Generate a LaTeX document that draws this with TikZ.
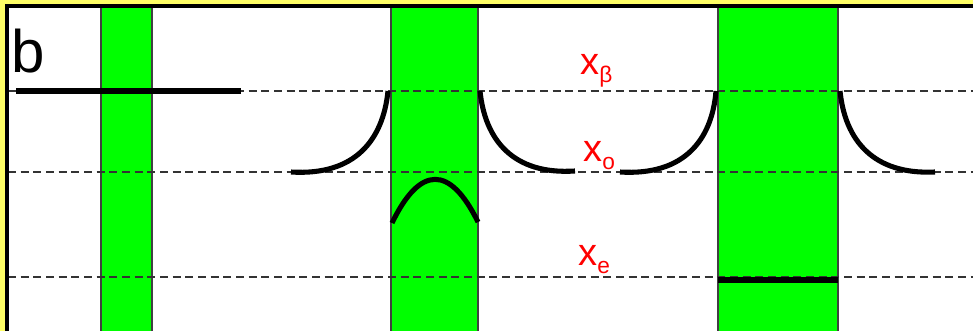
\documentclass[tikz,border=0pt]{standalone}
\usepackage{fontspec}
\setmainfont{Liberation Sans}
\definecolor{paleyellow}{RGB}{255,255,102}
\definecolor{bargreen}{RGB}{0,255,0}
\newcommand{\levellabel}[1]{x\raisebox{-6pt}{\fontsize{17}{18}\selectfont #1}}

\begin{document}
\begin{tikzpicture}[x=0.75pt,y=-0.75pt,
    bar/.style={fill=bargreen,draw=black!75,line width=0.8pt},
    guide/.style={draw=black!80,line width=0.9pt,dash pattern=on 6pt off 3.5pt},
    curve/.style={line width=3.8pt},
    level/.style={line width=4.5pt},
    lbl/.style={text=red,inner sep=0pt,anchor=base west,font=\fontsize{28.5}{30}\selectfont}]
    \useasboundingbox (0,0) rectangle (973,331);
    \clip (0,0) rectangle (973,331);

    % Frame
    \fill[paleyellow] (0,0) rectangle (973,331);
    \fill[white] (6,6) rectangle (980,340);

    % Green columns
    \draw[bar] (101,6) rectangle (152,340);
    \draw[bar] (391,6) rectangle (478,340);
    \draw[bar] (718,6) rectangle (838,340);

    % Levels
    \draw[guide] (8,91) -- (973,91);
    \draw[guide] (8,172) -- (973,172);
    \draw[guide] (8,277) -- (973,277);

    % Profiles
    \draw[level] (16,91) -- (241,91);
    \draw[curve] (291,172) .. controls (355,176) and (383,140) .. (388,91);
    \draw[curve] (480,91) .. controls (485,140) and (513,175) .. (575,171);
    \draw[curve] (392,223) .. controls (420,165) and (450,165) .. (478,222);
    \draw[curve] (620,172) .. controls (684,176) and (712,140) .. (716,91);
    \draw[curve] (840,91) .. controls (845,140) and (873,175) .. (935,172);
    \draw[level] (718,280) -- (838,280);

    % Border
    \draw[line width=3pt] (6.5,340) -- (6.5,6.5) -- (980,6.5);

    % Labels
    \node[inner sep=0pt,anchor=base west,font=\fontsize{45}{50}\selectfont] (panel) at (11,73) {b};
    \node[lbl] (xbeta) at (580,75) {\levellabel{β}};
    \node[lbl] (xo) at (583,162) {\levellabel{o}};
    \node[lbl] (xe) at (578,265) {\levellabel{e}};
\end{tikzpicture}
\end{document}
